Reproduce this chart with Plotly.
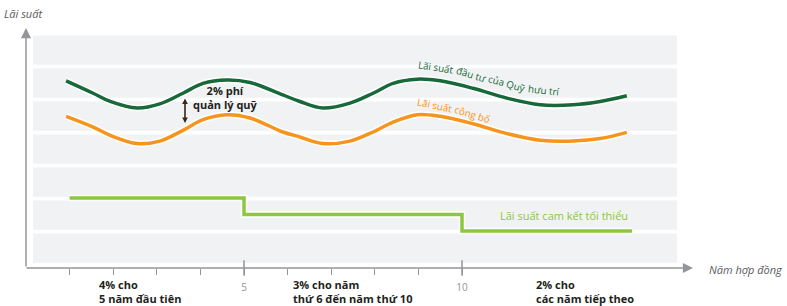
import plotly.graph_objects as go

# ---------------- data ----------------
years = [0.92, 1.54, 1.93, 2.55, 3.07, 3.60, 4.06, 4.61, 5.14, 5.89, 6.28, 6.81,
         7.43, 7.96, 8.42, 8.97, 9.50, 10.25, 11.03, 11.79, 12.55, 13.17, 13.78]
fund_rate = [11.1, 10.35, 9.85, 9.45, 9.7, 10.35, 10.95, 11.15, 11.0, 10.25, 9.85, 9.45,
             9.75, 10.35, 10.95, 11.2, 11.1, 10.65, 10.05, 9.65, 9.65, 9.85, 10.2]
declared_rate = [8.95, 8.3, 7.8, 7.3, 7.45, 8.1, 8.75, 9.05, 8.85, 8.0, 7.7, 7.3,
                 7.45, 8.0, 8.6, 9.05, 8.95, 8.5, 7.9, 7.5, 7.45, 7.6, 7.98]
min_years = [1, 5, 10, 13.9]
min_rate = [4, 3, 2, 2]
tick_years = list(range(1, 11))
tick_labels = ["", "", "", "", "5", "", "", "", "", "10"]
milestone_years = [5, 10]

# ---------------- styling helpers ----------------
FONT = "Open Sans"
GREEN = "#17693a"
ORANGE = "#f7941d"
LGREEN = "#8dc63f"
GRAY = "#939598"
BAND = "#f1f2f4"

PX_X0, PX_PER_YR = 26.0, 43.6
PX_Y0, PX_PER_PCT = 264.0, 16.5

ML, MR, MT, MB = 26, 94, 28, 38
W, H = 787, 306
PW, PH = W - ML - MR, H - MT - MB


def dx(px):
    return (px - PX_X0) / PX_PER_YR


def dy(py):
    return (PX_Y0 - py) / PX_PER_PCT


def px_paper(px):
    return (px - ML) / PW


def py_paper(py):
    return (H - MB - py) / PH


X_RANGE = [dx(ML), dx(W - MR)]
Y_RANGE = [dy(H - MB), dy(MT)]

fig = go.Figure()

# lines with white halo
for xs, ys, col, shape in [(years, fund_rate, GREEN, "spline"),
                           (years, declared_rate, ORANGE, "spline"),
                           (min_years, min_rate, LGREEN, "hv")]:
    fig.add_trace(go.Scatter(x=xs, y=ys, mode="lines",
                             line=dict(color="white", width=6.5, shape=shape, smoothing=1.0),
                             hoverinfo="skip", showlegend=False))
    fig.add_trace(go.Scatter(x=xs, y=ys, mode="lines",
                             line=dict(color=col, width=3.5, shape=shape, smoothing=1.0),
                             hoverinfo="skip", showlegend=False))

# longer ticks at milestones
fig.add_trace(go.Scatter(x=milestone_years, y=[Y_RANGE[0]] * len(milestone_years),
                         mode="markers", cliponaxis=False,
                         marker=dict(symbol="line-ns", size=11,
                                     line=dict(color=GRAY, width=1.5)),
                         hoverinfo="skip", showlegend=False))

# background bands
shapes = []
for i in range(7):
    shapes.append(dict(type="rect", xref="x", yref="y", layer="below",
                       x0=dx(33), x1=dx(677), y0=2 * i + 0.07, y1=2 * i + 1.85,
                       fillcolor=BAND, line=dict(width=0)))

ann = []
# axes arrows
ann.append(dict(x=0, y=Y_RANGE[1], ax=0, ay=Y_RANGE[0], xref="x", yref="y",
                axref="x", ayref="y", text="", showarrow=True, arrowhead=2,
                arrowsize=1.35, arrowwidth=1.5, arrowcolor=GRAY))
ann.append(dict(x=X_RANGE[1], y=Y_RANGE[0], ax=dx(25), ay=Y_RANGE[0], xref="x", yref="y",
                axref="x", ayref="y", text="", showarrow=True, arrowhead=2,
                arrowsize=1.35, arrowwidth=1.5, arrowcolor=GRAY))
# fee double arrow
ann.append(dict(x=dx(185), y=dy(98.5), ax=dx(185), ay=dy(124.5), xref="x", yref="y",
                axref="x", ayref="y", text="", showarrow=True, arrowhead=2,
                startarrowhead=2, arrowside="end+start", arrowsize=0.7,
                startarrowsize=0.7, arrowwidth=1.6, arrowcolor="#3c2415"))


def txt(s, px, py, size=11, color="#231f20", bold=False, italic=False,
        xanchor="center", angle=0, align="center"):
    if bold:
        s = "<b>" + s.replace("<br>", "</b><br><b>") + "</b>"
    if italic:
        s = "<i>" + s + "</i>"
    ann.append(dict(x=px_paper(px), y=py_paper(py), xref="paper", yref="paper", text=s,
                    showarrow=False, xanchor=xanchor, yanchor="middle", textangle=angle,
                    borderpad=0, align=align,
                    font=dict(family=FONT, size=size, color=color)))


txt("Lãi suất", 3, 13, size=11, color="#58595b", italic=True, xanchor="left")
txt("Năm hợp đồng", 708, 269.5, size=11, color="#58595b", italic=True, xanchor="left")

txt("2% phí<br>quản lý quỹ", 225.5, 98, size=11, bold=True)

for w, px, py, a in [("Lãi suất", 436, 67.5, 9), ("đầu tư", 470.5, 74.5, 17),
                     ("của Quỹ", 506, 83, 16), ("hưu trí", 543.5, 90.5, 6)]:
    txt(w, px, py, size=9.8, color=GREEN, angle=a)

for w, px, py, a in [("Lãi suất", 435, 105, 12), ("công bố", 472, 114.5, 17)]:
    txt(w, px, py, size=9.8, color=ORANGE, angle=a)

txt("Lãi suất cam kết tối thiểu", 499, 215.5, size=11, color=LGREEN, xanchor="left")

for label, px in [("4% cho<br>5 năm đầu tiên", 98),
                  ("3% cho năm<br>thứ 6 đến năm thứ 10", 292),
                  ("2% cho<br>các năm tiếp theo", 535)]:
    txt(label, px, 291.5, size=11, bold=True, xanchor="left", align="left")

fig.update_layout(
    width=W, height=H, margin=dict(l=ML, r=MR, t=MT, b=MB, pad=0),
    paper_bgcolor="white", plot_bgcolor="white",
    showlegend=False, hovermode=False,
    shapes=shapes, annotations=ann,
    xaxis=dict(range=X_RANGE, showgrid=False, zeroline=False, showline=False,
               tickvals=tick_years, ticktext=tick_labels, ticks="outside",
               ticklen=6, tickwidth=1, tickcolor=GRAY, ticklabelstandoff=4,
               tickfont=dict(family=FONT, size=10, color=GRAY), fixedrange=True),
    yaxis=dict(range=Y_RANGE, showgrid=False, zeroline=False, showline=False,
               showticklabels=False, ticks="", fixedrange=True),
)

fig.write_html("out.html", config={"displayModeBar": False},
               post_script="document.body.style.margin='0';document.body.style.padding='0';")
